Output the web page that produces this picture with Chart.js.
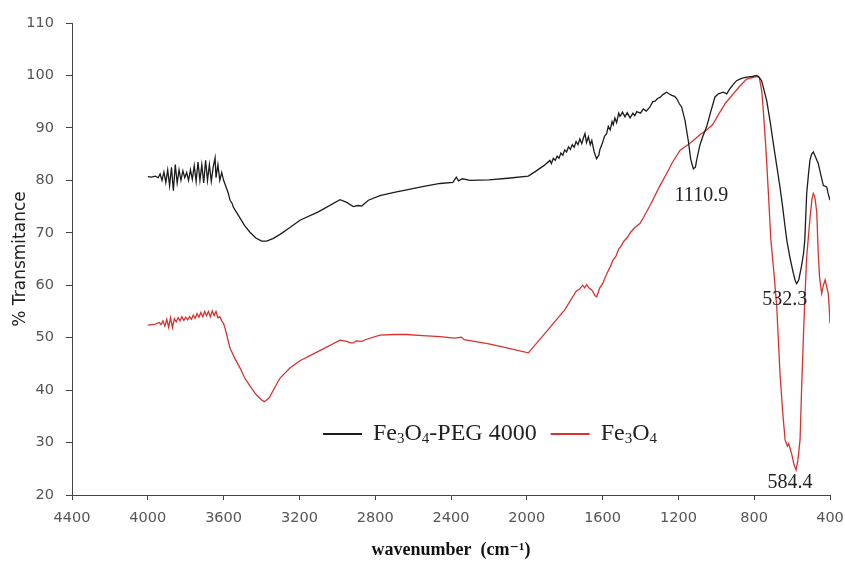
<!DOCTYPE html>
<html>
<head>
<meta charset="utf-8">
<script src="https://cdn.jsdelivr.net/npm/chart.js@4.4.1/dist/chart.umd.min.js"></script>
<style>
  html, body { margin: 0; padding: 0; background: #fff; }
</style>
</head>
<body>
<canvas id="ftirChart" width="845" height="561"></canvas>
<script>
// [wavenumber, % transmittance]
const pegSpectrum = [
  [4000, 80.7], [3980, 80.6], [3960, 80.8], [3945, 80.5], [3935, 81.2], [3925, 80.0],
  [3915, 81.6], [3905, 79.6], [3895, 82.0], [3885, 79.0], [3875, 82.5], [3865, 78.0],
  [3855, 83.0], [3845, 79.5], [3835, 82.0], [3825, 80.0], [3815, 81.8], [3805, 80.5],
  [3795, 81.5], [3785, 80.0], [3775, 82.0], [3765, 80.2], [3755, 82.8], [3745, 79.8],
  [3735, 83.5], [3725, 80.0], [3715, 83.0], [3705, 79.5], [3695, 83.8], [3685, 80.0],
  [3675, 83.0], [3665, 79.8], [3655, 82.5], [3645, 84.3], [3640, 80.5], [3630, 83.0],
  [3620, 80.0], [3610, 81.5], [3600, 80.0], [3590, 79.0], [3580, 78.0], [3575, 77.5],
  [3566, 76.2], [3555, 75.6], [3549, 74.9], [3530, 73.8], [3513, 72.8], [3490, 71.4],
  [3461, 70.1], [3430, 69.0], [3399, 68.4], [3373, 68.4], [3340, 68.9], [3302, 69.7],
  [3250, 71.0], [3197, 72.4], [3100, 74.0], [2986, 76.3], [2950, 75.8], [2916, 75.0],
  [2890, 75.2], [2871, 75.1], [2836, 76.2], [2775, 77.1], [2700, 77.7], [2634, 78.2],
  [2550, 78.8], [2458, 79.4], [2390, 79.6], [2372, 80.6], [2360, 79.9], [2340, 80.3],
  [2300, 80.0], [2200, 80.1], [2100, 80.4], [1992, 80.8], [1950, 81.8], [1910, 82.8],
  [1878, 83.8], [1870, 83.2], [1860, 84.2], [1850, 83.8], [1840, 84.6], [1830, 84.2],
  [1820, 85.2], [1810, 84.8], [1800, 85.8], [1790, 85.4], [1780, 86.4], [1770, 85.9],
  [1760, 86.8], [1750, 86.3], [1740, 87.4], [1730, 86.8], [1720, 87.9], [1710, 87.0],
  [1700, 88.2], [1693, 88.9], [1685, 87.2], [1675, 88.3], [1665, 86.8], [1657, 87.6],
  [1645, 85.5], [1632, 84.1], [1620, 84.8], [1614, 85.9], [1600, 87.2], [1590, 88.4],
  [1579, 88.9], [1570, 90.3], [1560, 89.6], [1550, 91.2], [1544, 90.6], [1535, 91.9],
  [1526, 91.0], [1515, 92.8], [1508, 92.2], [1495, 93.0], [1482, 92.1], [1470, 92.9],
  [1455, 91.9], [1440, 92.8], [1430, 92.3], [1420, 93.1], [1400, 92.8], [1385, 93.6],
  [1370, 93.2], [1350, 94.0], [1335, 95.0], [1323, 95.1], [1310, 95.6], [1297, 95.8],
  [1280, 96.4], [1262, 96.8], [1250, 96.5], [1235, 96.2], [1220, 96.0], [1209, 95.6],
  [1195, 94.6], [1183, 94.0], [1165, 91.4], [1148, 87.6], [1135, 84.0], [1121, 82.2],
  [1110, 82.5], [1104, 83.8], [1086, 86.8], [1070, 88.5], [1051, 90.2], [1030, 93.0],
  [1007, 95.9], [989, 96.5], [963, 96.8], [945, 96.5], [928, 97.5], [910, 98.3],
  [893, 99.0], [870, 99.4], [840, 99.7], [810, 99.8], [787, 100.0], [775, 99.7],
  [761, 99.0], [750, 97.5], [734, 95.2], [715, 91.0], [699, 87.0], [680, 82.5],
  [664, 78.7], [650, 75.0], [637, 71.1], [628, 68.6], [610, 65.0], [593, 62.2],
  [583, 60.8], [576, 60.3], [565, 61.0], [551, 63.5], [540, 66.0], [533, 68.6],
  [523, 77.5], [514, 81.0], [506, 83.8], [497, 85.0], [488, 85.4], [478, 84.6],
  [462, 83.2], [448, 81.0], [435, 79.0], [426, 78.9], [417, 78.7], [410, 77.5],
  [400, 76.2]
];

const feSpectrum = [
  [4000, 52.4], [3960, 52.6], [3940, 52.9], [3930, 52.5], [3920, 53.2], [3910, 52.2],
  [3900, 53.5], [3890, 52.0], [3880, 53.8], [3870, 51.9], [3860, 53.6], [3850, 53.0],
  [3840, 53.8], [3830, 53.2], [3820, 54.0], [3810, 53.3], [3800, 53.9], [3790, 53.4],
  [3780, 54.0], [3770, 53.5], [3760, 54.3], [3750, 53.7], [3740, 54.6], [3730, 53.9],
  [3720, 54.8], [3710, 54.0], [3700, 55.0], [3690, 54.2], [3680, 55.0], [3670, 54.0],
  [3660, 55.1], [3650, 54.2], [3640, 55.0], [3630, 53.8], [3620, 54.0], [3610, 53.2],
  [3600, 52.7], [3590, 51.5], [3580, 50.0], [3566, 48.0], [3540, 46.0], [3513, 44.2],
  [3490, 42.4], [3461, 40.8], [3430, 39.2], [3399, 38.1], [3385, 37.8], [3360, 38.5],
  [3330, 40.5], [3302, 42.3], [3250, 44.2], [3197, 45.6], [3100, 47.4], [2986, 49.5],
  [2950, 49.3], [2930, 49.0], [2916, 49.0], [2900, 49.4], [2870, 49.3], [2845, 49.7],
  [2775, 50.5], [2700, 50.6], [2634, 50.6], [2550, 50.4], [2458, 50.2], [2380, 49.9],
  [2345, 50.1], [2330, 49.6], [2200, 48.8], [2100, 48.0], [1992, 47.1], [1900, 51.0],
  [1800, 55.3], [1740, 58.8], [1720, 59.3], [1705, 60.0], [1695, 59.5], [1684, 60.1],
  [1670, 59.4], [1655, 59.0], [1640, 58.0], [1631, 57.8], [1615, 59.5], [1600, 60.3],
  [1578, 62.2], [1560, 63.5], [1545, 64.8], [1530, 65.5], [1515, 66.9], [1500, 67.6],
  [1490, 68.3], [1470, 69.1], [1450, 70.2], [1430, 71.0], [1402, 71.8], [1380, 73.2],
  [1350, 75.2], [1332, 76.5], [1300, 78.8], [1262, 81.3], [1230, 83.5], [1192, 85.7],
  [1150, 86.8], [1121, 87.6], [1090, 88.6], [1051, 89.6], [1020, 90.6], [981, 93.0],
  [950, 94.8], [910, 96.5], [880, 97.8], [840, 99.3], [800, 99.7], [787, 99.8],
  [773, 99.6], [760, 97.0], [752, 93.3], [738, 86.0], [725, 77.5], [712, 68.6],
  [695, 62.0], [681, 55.9], [664, 43.2], [650, 36.0], [637, 30.5], [625, 29.3],
  [618, 29.8], [610, 28.8], [602, 27.8], [590, 25.8], [579, 24.8], [570, 26.5],
  [558, 30.5], [550, 40.0], [541, 49.5], [532, 58.0], [523, 65.4], [505, 73.0],
  [495, 76.5], [488, 77.5], [480, 76.8], [470, 74.0], [462, 66.0], [455, 61.5],
  [444, 58.4], [435, 60.0], [426, 61.0], [418, 59.8], [409, 58.4], [403, 55.0],
  [400, 52.7]
];

const seriesLabels = ['Fe₃O₄-PEG 4000', 'Fe₃O₄'];
const seriesColors = ['#1c1c1c', '#d8322f'];
const xTicks = [4400, 4000, 3600, 3200, 2800, 2400, 2000, 1600, 1200, 800, 400];
const yTicks = [20, 30, 40, 50, 60, 70, 80, 90, 100, 110];

// band labels, tied to the spectrum point they mark
const peakLabels = ['1110.9', '532.3', '584.4'];
const peakSeries = [0, 0, 1];
const peakWavenumbers = [1121, 576, 579];

const serifFont = '"Liberation Serif", "Times New Roman", "DejaVu Serif", serif';
const sansFont = '"DejaVu Sans", Verdana, sans-serif';

// draws a label, turning unicode subscript digits into small lowered digits
function drawRichText(ctx, text, x, y, size) {
  const subs = '₀₁₂₃₄₅₆₇₈₉';
  let cx = x;
  for (const ch of text) {
    const k = subs.indexOf(ch);
    if (k >= 0) {
      ctx.font = `${Math.round(size * 0.62)}px ${serifFont}`;
      ctx.fillText(String(k), cx, y + size * 0.22);
      cx += ctx.measureText(String(k)).width;
    } else {
      ctx.font = `${size}px ${serifFont}`;
      ctx.fillText(ch, cx, y);
      cx += ctx.measureText(ch).width;
    }
  }
  return cx - x;
}

const overlayPlugin = {
  id: 'overlay',
  afterDatasetsDraw(chart) {
    const { ctx, chartArea, scales } = chart;
    const spectra = [pegSpectrum, feSpectrum];
    const offsets = [[8, 27], [-12, 16], [-6, 13]];
    ctx.save();
    ctx.fillStyle = '#222';
    ctx.textAlign = 'center';
    ctx.textBaseline = 'middle';
    ctx.font = `20px ${serifFont}`;
    peakLabels.forEach((txt, i) => {
      const pt = spectra[peakSeries[i]].find(p => p[0] === peakWavenumbers[i]);
      const px = scales.x.getPixelForValue(pt[0]) + offsets[i][0];
      const py = scales.y.getPixelForValue(pt[1]) + offsets[i][1];
      ctx.fillText(txt, px, py);
    });

    // legend inside the plot
    ctx.textAlign = 'left';
    let lx = chartArea.left + 251;
    const ly = chartArea.top + 411;
    chart.data.datasets.forEach(ds => {
      ctx.strokeStyle = ds.borderColor;
      ctx.lineWidth = 2;
      ctx.beginPath();
      ctx.moveTo(lx, ly);
      ctx.lineTo(lx + 39, ly);
      ctx.stroke();
      ctx.fillStyle = '#222';
      const w = drawRichText(ctx, ds.label, lx + 50, ly, 24);
      lx += 50 + w + 14;
    });
    ctx.restore();
  }
};

const ctx = document.getElementById('ftirChart').getContext('2d');
new Chart(ctx, {
  type: 'line',
  data: {
    datasets: [pegSpectrum, feSpectrum].map((spec, i) => ({
      label: seriesLabels[i],
      data: spec.map(p => ({ x: p[0], y: p[1] })),
      borderColor: seriesColors[i],
      borderWidth: 1.3,
      pointRadius: 0,
      tension: 0,
      fill: false
    }))
  },
  options: {
    responsive: false,
    animation: false,
    layout: { padding: { top: 23, right: 15, left: 0, bottom: 0 } },
    plugins: {
      legend: { display: false },
      tooltip: { enabled: false }
    },
    scales: {
      x: {
        type: 'linear',
        reverse: true,
        min: 400,
        max: 4400,
        afterBuildTicks: (scale) => { scale.ticks = xTicks.map(v => ({ value: v })); },
        ticks: {
          color: '#555',
          font: { family: sansFont, size: 14.5 },
          padding: 10,
          maxRotation: 0,
          callback: (v) => String(v)
        },
        grid: { drawOnChartArea: false, drawTicks: true, tickLength: 5, color: '#444' },
        border: { color: '#444', width: 1 },
        title: {
          display: true,
          text: 'wavenumber  (cm⁻¹)',
          color: '#111',
          font: { family: serifFont, size: 18, weight: 'bold' },
          padding: { top: 4, bottom: 0 }
        },
        afterFit: (scale) => {
          scale.height = 66;
          scale.paddingRight = 0;
          scale.paddingLeft = 0;
        }
      },
      y: {
        min: 20,
        max: 110,
        afterBuildTicks: (scale) => { scale.ticks = yTicks.map(v => ({ value: v })); },
        ticks: {
          color: '#555',
          font: { family: sansFont, size: 14.5 },
          padding: 12,
          callback: (v) => String(v)
        },
        grid: { drawOnChartArea: false, drawTicks: true, tickLength: 6, color: '#444' },
        border: { color: '#444', width: 1 },
        title: {
          display: true,
          text: '% Transmitance',
          color: '#222',
          font: { family: sansFont, size: 17 },
          padding: { top: 10, bottom: 0 }
        },
        afterFit: (scale) => { scale.width = 72; }
      }
    }
  },
  plugins: [overlayPlugin]
});
</script>
</body>
</html>
